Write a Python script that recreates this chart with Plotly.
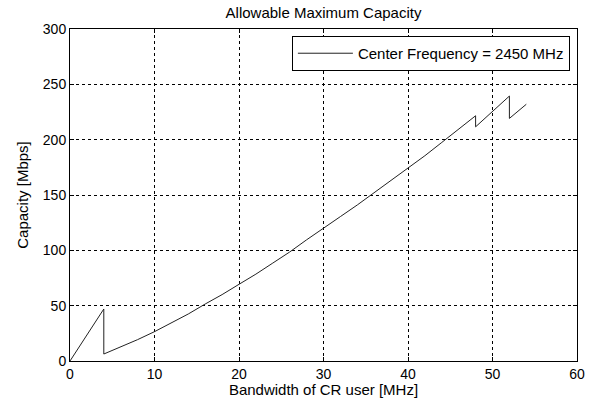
import plotly.graph_objects as go

# Bandwidth of CR user [MHz] and capacity [Mbps]
bandwidth = [0, 4, 4, 6, 8, 10, 12, 14, 16, 18, 20, 22, 24, 26, 28, 30, 32, 34, 36,
             38, 40, 42, 44, 46, 48, 48, 50, 52, 52, 54]
capacity = [0, 47, 6.3, 12.5, 19.3, 26.5, 34.5, 42.5, 51.5, 60, 69.3, 78.5, 88.5, 98.5,
            109.5, 120.4, 130.5, 141, 152, 163, 174, 185.5, 197.5, 209.5, 221.6, 211.6,
            225.5, 239.4, 219.2, 232]

x_ticks = [0, 10, 20, 30, 40, 50, 60]
y_ticks = [0, 50, 100, 150, 200, 250, 300]

font = "Liberation Sans, Arial, sans-serif"

fig = go.Figure()
fig.add_trace(go.Scatter(
    x=bandwidth, y=capacity, mode="lines",
    line=dict(color="#222222", width=1),
    name="Center Frequency = 2450 MHz",
))

axis_common = dict(
    showline=True, linecolor="black", linewidth=1, mirror="ticks",
    showgrid=True, gridcolor="black", gridwidth=1, griddash="3px,3px",
    ticks="inside", ticklen=4, tickcolor="black",
    zeroline=False, tickfont=dict(family=font, size=14, color="black"),
    automargin=False,
)

fig.update_xaxes(range=[0, 60], tickvals=x_ticks,
                 title=dict(text="Bandwidth of CR user [MHz]", font=dict(family=font, size=15, color="black"), standoff=2),
                 **axis_common)
fig.update_yaxes(range=[0, 300], tickvals=y_ticks,
                 title=dict(text="Capacity [Mbps]", font=dict(family=font, size=15, color="black"), standoff=10),
                 **axis_common)

fig.update_layout(
    width=589, height=398,
    margin=dict(l=70, r=12, t=29, b=37),
    paper_bgcolor="white", plot_bgcolor="white",
    title=dict(text="Allowable Maximum Capacity", x=(70 + 577) / 2 / 589, xanchor="center",
               y=1 - 13 / 398, yanchor="middle", font=dict(family=font, size=15, color="black")),
    showlegend=True,
    legend=dict(x=0.986, y=0.979, xanchor="right", yanchor="top",
                bgcolor="white", bordercolor="black", borderwidth=1,
                font=dict(family=font, size=15, color="black"),
                itemwidth=55),
)

fig.write_html("out.html", config={"displayModeBar": False},
               post_script="document.body.style.margin='0';document.body.style.overflow='hidden';")
